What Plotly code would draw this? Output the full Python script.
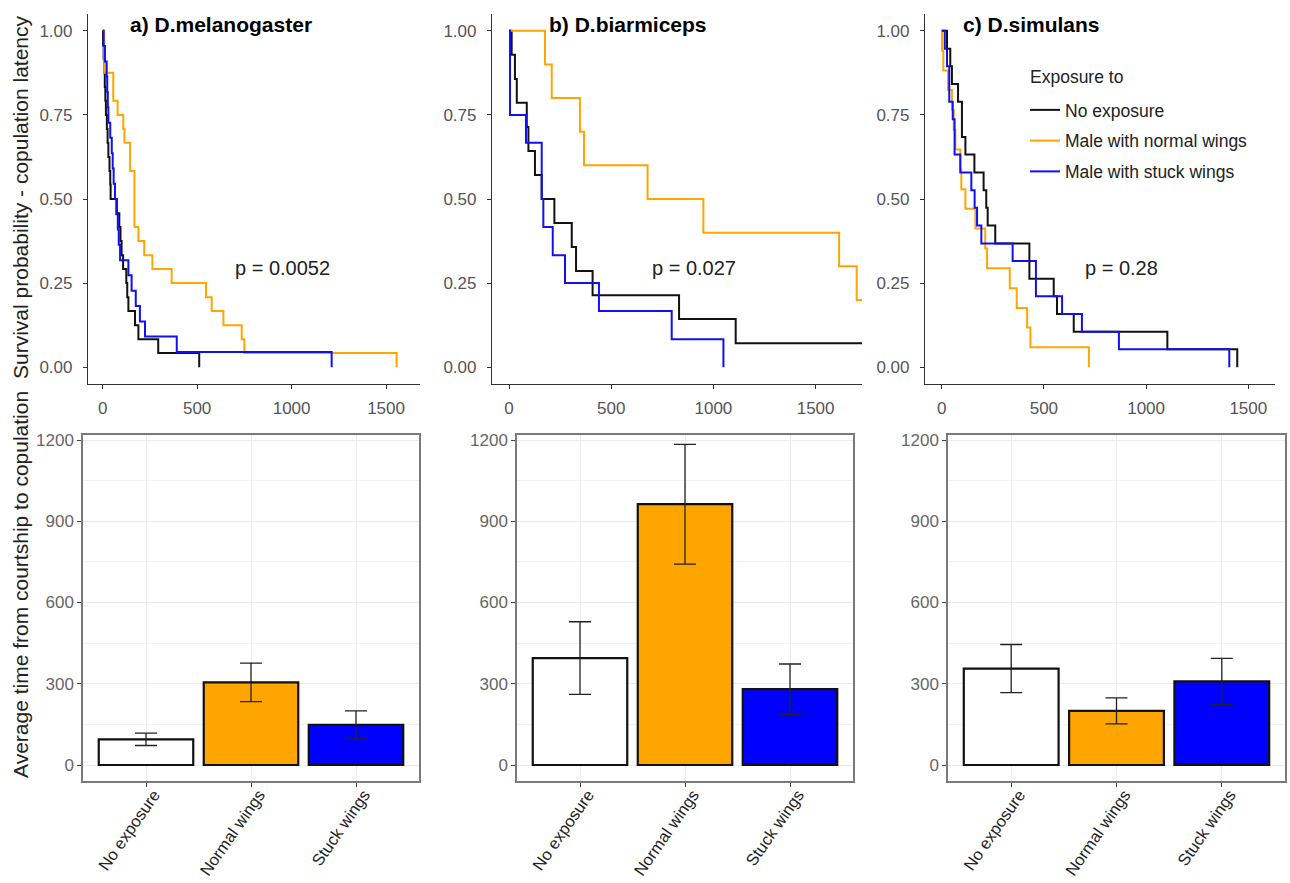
import plotly.graph_objects as go

W, H = 1290, 883
FONT = "Liberation Sans, Arial, sans-serif"

# ---------------- data ----------------
groups = ["No exposure", "Male with normal wings", "Male with stuck wings"]
curve_colors = ["#111111", "#FFA500", "#1010F0"]

species_titles = ["a) D.melanogaster", "b) D.biarmiceps", "c) D.simulans"]
p_values = ["p = 0.0052", "p = 0.027", "p = 0.28"]

# Kaplan-Meier step curves (event time, survival after event)
mel_none_t = [2, 5, 8, 11, 14, 17, 22, 26, 30, 36, 40, 42, 75, 88, 94, 100, 108, 125, 130, 136, 171, 189, 294, 511]
mel_none_s = [0.958, 0.917, 0.875, 0.833, 0.792, 0.75, 0.708, 0.667, 0.625, 0.583, 0.542, 0.5,
              0.458, 0.417, 0.375, 0.333, 0.292, 0.25, 0.208, 0.167, 0.125, 0.083, 0.042, 0.0]
mel_norm_t = [8, 56, 79, 109, 115, 145, 168, 189, 220, 263, 365, 547, 577, 639, 736, 750, 1556]
mel_norm_s = [0.875, 0.792, 0.75, 0.708, 0.667, 0.583, 0.417, 0.375, 0.333, 0.292, 0.25,
              0.208, 0.167, 0.125, 0.083, 0.042, 0.0]
mel_stuck_t = [5, 12, 21, 24, 27, 30, 40, 48, 53, 58, 65, 72, 80, 85, 92, 136, 153, 175, 197, 224, 392, 1212]
mel_stuck_s = [0.955, 0.909, 0.864, 0.818, 0.773, 0.727, 0.682, 0.636, 0.591, 0.545, 0.5, 0.455,
               0.409, 0.364, 0.318, 0.273, 0.227, 0.182, 0.136, 0.091, 0.045, 0.0]

bia_none_t = [13, 29, 38, 87, 95, 127, 160, 222, 307, 328, 409, 832, 1109]
bia_none_s = [0.929, 0.857, 0.786, 0.714, 0.643, 0.571, 0.5, 0.429, 0.357, 0.286, 0.214, 0.143, 0.071]
bia_norm_t = [176, 209, 347, 367, 678, 951, 1615, 1701]
bia_norm_s = [0.9, 0.8, 0.7, 0.6, 0.5, 0.4, 0.3, 0.2]
bia_stuck_t = [5, 83, 160, 168, 214, 274, 440, 796, 1049]
bia_stuck_s = [0.75, 0.667, 0.5, 0.417, 0.333, 0.25, 0.167, 0.083, 0.0]

sim_none_t = [26, 42, 50, 80, 99, 116, 160, 205, 218, 225, 262, 429, 548, 564, 646, 1104, 1446]
sim_none_s = [0.947, 0.895, 0.842, 0.789, 0.684, 0.632, 0.579, 0.526, 0.474, 0.421, 0.368,
              0.263, 0.211, 0.158, 0.105, 0.053, 0.0]
sim_norm_t = [2, 8, 31, 50, 59, 67, 91, 96, 116, 165, 213, 222, 333, 367, 418, 434, 720]
sim_norm_s = [0.941, 0.882, 0.824, 0.765, 0.706, 0.647, 0.588, 0.529, 0.471, 0.412, 0.353,
              0.294, 0.235, 0.176, 0.118, 0.059, 0.0]
sim_stuck_t = [15, 26, 37, 54, 63, 91, 145, 161, 173, 194, 347, 461, 589, 686, 867, 1407]
sim_stuck_s = [0.947, 0.895, 0.789, 0.737, 0.632, 0.579, 0.526, 0.474, 0.421, 0.368, 0.316,
               0.211, 0.158, 0.105, 0.053, 0.0]

# follow-up end for curves that stay censored above zero (D.biarmiceps)
bia_followup_end = 1760

# Bar chart: mean time from courtship to copulation and its standard error
bar_categories = ["No exposure", "Normal wings", "Stuck wings"]
bar_colors = ["#FFFFFF", "#FFA500", "#0000FF"]
mel_mean = [95, 305, 148]
mel_se = [23, 71, 52]
bia_mean = [395, 963, 280]
bia_se = [134, 221, 93]
sim_mean = [356, 200, 309]
sim_se = [89, 48, 85]

km_ticks = [0, 500, 1000, 1500]
surv_ticks = [0, 0.25, 0.5, 0.75, 1.0]
bar_ticks = [0, 300, 600, 900, 1200]
bar_minor = [150, 450, 750, 1050]

# ---------------- figure ----------------
def fx(px):
    return px / W


def fy(py):
    return 1 - py / H


km_data = [
    [(mel_none_t, mel_none_s), (mel_norm_t, mel_norm_s), (mel_stuck_t, mel_stuck_s)],
    [(bia_none_t, bia_none_s), (bia_norm_t, bia_norm_s), (bia_stuck_t, bia_stuck_s)],
    [(sim_none_t, sim_none_s), (sim_norm_t, sim_norm_s), (sim_stuck_t, sim_stuck_s)],
]
bar_data = [(mel_mean, mel_se), (bia_mean, bia_se), (sim_mean, sim_se)]

fig = go.Figure()

for i, panel in enumerate(km_data):
    ax = "" if i == 0 else str(i + 1)
    for g, (t, s) in enumerate(panel):
        xs = [0] + list(t)
        ys = [1.0] + list(s)
        if s[-1] > 0:
            xs.append(bia_followup_end)
            ys.append(s[-1])
        fig.add_trace(go.Scatter(
            x=xs, y=ys, mode="lines", line=dict(shape="hv", color=curve_colors[g], width=2),
            name=groups[g], legendgroup=groups[g], showlegend=(i == 0),
            xaxis="x" + ax, yaxis="y" + ax, hoverinfo="skip"))

for i, (m, se) in enumerate(bar_data):
    ax = str(i + 4)
    fig.add_trace(go.Bar(
        x=bar_categories, y=m, width=0.9,
        marker=dict(color=bar_colors, line=dict(color="#111111", width=2.2)),
        error_y=dict(type="data", array=se, visible=True, color="#222222", thickness=1.3, width=11),
        showlegend=False, xaxis="x" + ax, yaxis="y" + ax, hoverinfo="skip"))

tick_font = dict(family=FONT, size=17, color="#555555")
cat_font = dict(family=FONT, size=16.5, color="#222222")

# KM axes: pixel geometry
km_x = [(88, 420, 102.7, 0.1889), (492, 862, 509.0, 0.2044), (925, 1275, 941.7, 0.2044)]
layout = {}
for i, (l, r, zero, scale) in enumerate(km_x):
    n = "" if i == 0 else str(i + 1)
    layout["xaxis" + n] = dict(
        domain=[fx(l), fx(r)], range=[(l - zero) / scale, (r - zero) / scale],
        anchor="y" + n, showline=True, linecolor="#333333", linewidth=1.2,
        ticks="outside", ticklen=4, tickcolor="#333333", tickvals=km_ticks,
        ticklabelstandoff=4, automargin=False,
        showgrid=False, zeroline=False, tickfont=tick_font)
    layout["yaxis" + n] = dict(
        domain=[fy(384), fy(14)], range=[-0.05, 1.05], anchor="x" + n,
        showline=True, linecolor="#333333", linewidth=1.2, ticks="outside", ticklen=4,
        tickcolor="#333333", tickvals=surv_ticks, tickformat=".2f", ticklabelstandoff=7,
        automargin=False, showgrid=False, zeroline=False, tickfont=tick_font)

bar_x = [(83, 419), (517, 853), (948, 1285)]
for i, (l, r) in enumerate(bar_x):
    n = str(i + 4)
    layout["xaxis" + n] = dict(
        domain=[fx(l), fx(r)], range=[-0.6, 2.6], anchor="y" + n,
        showline=True, mirror=True, linecolor="#7a7a7a", linewidth=1.5,
        ticks="outside", ticklen=4, tickcolor="#444444", tickangle=-55,
        ticklabelshift=8, ticklabelstandoff=-8, automargin=False,
        showgrid=True, gridcolor="#EBEBEB", gridwidth=1, zeroline=False, tickfont=cat_font)
    layout["yaxis" + n] = dict(
        domain=[fy(781), fy(435)], range=[-59, 1218.5], anchor="x" + n,
        showline=True, mirror=True, linecolor="#7a7a7a", linewidth=1.5,
        ticks="outside", ticklen=4, tickcolor="#444444", tickvals=bar_ticks,
        showgrid=True, gridcolor="#EBEBEB", gridwidth=1, zeroline=False, automargin=False,
        minor=dict(tickvals=bar_minor, showgrid=True, gridcolor="#F3F3F3", gridwidth=0.7, ticks=""),
        tickfont=dict(family=FONT, size=17, color="#666666"))

annotations = []
title_x = [128, 547, 961]
for i, t in enumerate(species_titles):
    annotations.append(dict(text="<b>%s</b>" % t, xref="paper", yref="paper", x=fx(title_x[i]),
                            y=fy(24), xanchor="left", yanchor="middle", showarrow=False,
                            font=dict(family=FONT, size=21, color="#000000")))
p_x = [952, 903, 881]
for i, p in enumerate(p_values):
    n = "" if i == 0 else str(i + 1)
    annotations.append(dict(text=p, xref="x" + n, yref="y" + n, x=p_x[i], y=0.295,
                            xanchor="center", yanchor="middle",
                            showarrow=False, font=dict(family=FONT, size=20, color="#222222")))

annotations.append(dict(text="Survival probability - copulation latency", xref="paper", yref="paper",
                        x=fx(20), y=fy(197), textangle=-90, showarrow=False,
                        xanchor="center", yanchor="middle",
                        font=dict(family=FONT, size=21, color="#222222")))
annotations.append(dict(text="Average time from courtship to copulation", xref="paper", yref="paper",
                        x=fx(20), y=fy(585), textangle=-90, showarrow=False,
                        xanchor="center", yanchor="middle",
                        font=dict(family=FONT, size=21, color="#222222")))
annotations.append(dict(text="Exposure to", xref="paper", yref="paper", x=fx(1028), y=fy(77),
                        xanchor="left", yanchor="middle", showarrow=False,
                        font=dict(family=FONT, size=17.5, color="#222222")))

fig.update_layout(
    width=W, height=H, margin=dict(l=0, r=0, t=0, b=0, autoexpand=False),
    paper_bgcolor="white", plot_bgcolor="white", bargap=0.1,
    annotations=annotations,
    legend=dict(x=fx(1025), y=fy(92), xanchor="left", yanchor="top",
                font=dict(family=FONT, size=17.5, color="#222222"), tracegroupgap=5,
                bgcolor="rgba(0,0,0,0)"),
    **layout)

fig.write_html("out.html", config={"displayModeBar": False},
               post_script="document.body.style.margin='0px';document.body.style.overflow='hidden';")
